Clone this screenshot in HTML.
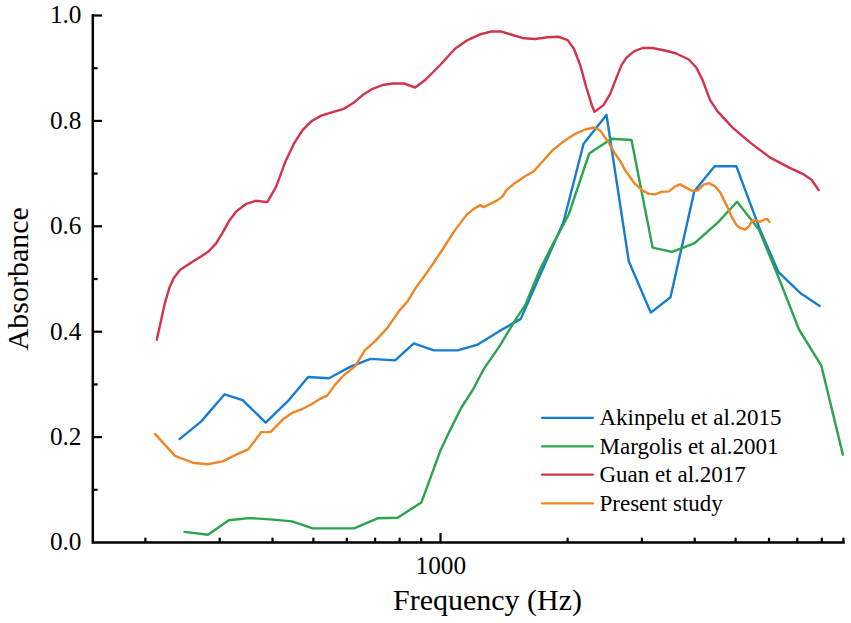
<!DOCTYPE html>
<html><head><meta charset="utf-8"><title>Absorbance</title>
<style>
html,body{margin:0;padding:0;background:#fff;}
svg{display:block;}
text{font-family:"Liberation Serif",serif;fill:#000;}
.tk{font-size:25.3px;}
.lg{font-size:23px;}
.ax{font-size:30px;}
.curve{fill:none;stroke-width:2.4;stroke-linejoin:round;stroke-linecap:round;}
</style></head><body>
<svg width="851" height="623" viewBox="0 0 851 623">
<rect width="851" height="623" fill="#fff"/>
<polyline class="curve" stroke="#167cd2" points="179.5,439.1 201.3,421.4 224.6,394.3 242.6,400.1 265.7,422.6 288.9,400.1 308.2,377.0 329.0,378.3 350.5,366.6 370.5,358.9 395.1,360.4 413.8,343.4 433.9,350.4 457.6,350.4 477.7,344.6 498.9,331.4 520.7,318.9 563.5,222.0 583.6,143.8 606.5,115.0 628.8,261.3 650.8,312.6 670.5,297.2 694.3,191.3 714.6,166.3 736.4,166.3 760.2,230.1 778.5,272.2 800.2,292.9 819.7,305.9"/>
<polyline class="curve" stroke="#2ca44b" points="184.5,531.9 208.0,534.7 228.8,520.2 248.8,518.1 270.1,519.4 292.2,521.4 312.7,528.4 354.0,528.4 377.6,518.3 397.6,517.7 421.3,502.6 430.1,478.9 440.1,451.3 450.1,430.1 461.4,407.5 473.0,389.5 483.9,368.9 500.2,345.1 515.2,320.1 525.2,305.1 540.3,268.8 553.0,243.8 562.0,227.5 568.9,214.0 589.2,153.5 611.5,138.8 631.5,140.0 652.6,247.6 672.1,251.9 694.3,243.3 717.7,222.6 737.1,201.8 758.9,229.6 777.7,275.2 799.0,329.5 821.3,365.6 842.9,454.6"/>
<polyline class="curve" stroke="#d3324c" points="156.8,339.7 165.0,302.6 169.5,287.6 173.8,278.1 180.0,270.1 191.3,262.6 201.3,256.3 208.8,251.3 216.3,243.1 222.6,232.6 228.9,221.3 236.4,211.3 246.4,203.8 255.6,200.8 267.3,202.1 276.3,186.4 285.0,162.6 293.8,143.9 302.6,130.1 311.3,121.3 321.3,115.6 332.6,112.1 343.9,108.8 353.9,102.6 362.6,95.1 372.6,88.8 382.7,85.0 392.7,83.5 403.9,83.5 415.2,87.5 425.2,80.0 440.2,65.0 455.0,48.8 467.5,40.1 480.1,34.3 491.3,31.5 501.3,31.5 512.6,35.0 523.9,38.3 535.1,39.0 547.6,37.3 558.9,36.8 567.7,40.1 573.9,48.8 580.2,65.1 586.4,87.6 592.2,106.4 594.5,111.9 603.5,105.1 610.2,93.9 616.5,77.6 621.5,65.1 626.5,57.6 634.0,51.3 642.5,48.0 652.5,48.0 665.0,50.5 676.3,53.5 688.8,59.5 696.3,67.5 702.6,80.1 710.1,100.1 717.6,111.4 732.6,127.6 750.2,142.6 770.2,157.6 790.2,168.1 802.7,173.8 811.5,179.7 818.7,190.0"/>
<polyline class="curve" stroke="#ef8626" points="155.0,433.9 175.0,455.9 192.6,462.7 207.6,464.2 222.6,461.4 236.4,454.6 248.1,449.4 261.4,432.1 270.7,431.9 282.7,419.6 292.7,412.6 302.7,408.8 311.5,404.3 320.2,398.8 327.2,395.6 335.2,384.6 344.0,375.0 355.0,366.4 365.0,350.2 375.0,341.4 387.6,327.6 398.8,311.4 407.6,301.3 415.1,288.8 425.1,275.1 433.9,262.5 442.5,249.5 455.0,230.1 466.3,215.1 473.8,208.9 480.1,205.1 483.8,207.1 490.1,203.9 497.6,200.1 502.6,196.4 506.4,190.1 513.9,183.8 525.1,176.3 533.9,171.3 542.7,161.3 552.7,150.1 563.9,141.3 575.2,133.8 585.2,129.5 594.5,127.5 600.2,130.6 607.0,140.0 615.1,153.8 620.3,161.3 625.1,170.1 633.0,181.3 635.1,183.9 642.7,190.6 648.9,193.9 655.2,194.4 661.4,191.9 668.9,191.4 675.2,186.4 680.2,184.4 685.2,187.1 691.5,190.6 697.7,190.6 704.0,184.4 709.0,183.1 715.3,186.4 720.3,192.6 726.5,205.1 731.4,216.3 736.4,225.0 740.1,228.0 745.1,229.6 748.9,226.3 752.2,220.8 756.4,220.6 760.2,221.8 765.2,219.3 767.7,219.3 769.4,221.8"/>
<g stroke="#000" stroke-width="2.2" fill="none">
<line x1="145.4" y1="542.5" x2="145.4" y2="537.7"/>
<line x1="219.7" y1="542.5" x2="219.7" y2="537.7"/>
<line x1="272.5" y1="542.5" x2="272.5" y2="537.7"/>
<line x1="313.4" y1="542.5" x2="313.4" y2="537.7"/>
<line x1="346.8" y1="542.5" x2="346.8" y2="537.7"/>
<line x1="375.1" y1="542.5" x2="375.1" y2="537.7"/>
<line x1="399.6" y1="542.5" x2="399.6" y2="537.7"/>
<line x1="421.2" y1="542.5" x2="421.2" y2="537.7"/>
<line x1="567.6" y1="542.5" x2="567.6" y2="537.7"/>
<line x1="641.9" y1="542.5" x2="641.9" y2="537.7"/>
<line x1="694.7" y1="542.5" x2="694.7" y2="537.7"/>
<line x1="735.6" y1="542.5" x2="735.6" y2="537.7"/>
<line x1="769.0" y1="542.5" x2="769.0" y2="537.7"/>
<line x1="797.3" y1="542.5" x2="797.3" y2="537.7"/>
<line x1="821.8" y1="542.5" x2="821.8" y2="537.7"/>
<line x1="843.4" y1="542.5" x2="843.4" y2="537.7"/>
<line x1="440.5" y1="542.5" x2="440.5" y2="533.0"/>
<line x1="92.8" y1="489.8" x2="97.6" y2="489.8"/>
<line x1="92.8" y1="437.1" x2="102.1" y2="437.1"/>
<line x1="92.8" y1="384.4" x2="97.6" y2="384.4"/>
<line x1="92.8" y1="331.7" x2="102.1" y2="331.7"/>
<line x1="92.8" y1="279.0" x2="97.6" y2="279.0"/>
<line x1="92.8" y1="226.3" x2="102.1" y2="226.3"/>
<line x1="92.8" y1="173.6" x2="97.6" y2="173.6"/>
<line x1="92.8" y1="120.9" x2="102.1" y2="120.9"/>
<line x1="92.8" y1="68.2" x2="97.6" y2="68.2"/>
<line x1="92.8" y1="15.5" x2="102.1" y2="15.5"/>
</g>
<path d="M92.8,14.3 V542.5 H844.8" stroke="#000" stroke-width="2.5" fill="none" stroke-linejoin="miter"/>
<text x="81.5" y="550.3" text-anchor="end" class="tk">0.0</text>
<text x="81.5" y="444.9" text-anchor="end" class="tk">0.2</text>
<text x="81.5" y="339.5" text-anchor="end" class="tk">0.4</text>
<text x="81.5" y="234.1" text-anchor="end" class="tk">0.6</text>
<text x="81.5" y="128.7" text-anchor="end" class="tk">0.8</text>
<text x="81.5" y="23.3" text-anchor="end" class="tk">1.0</text>
<text x="440.8" y="573.6" text-anchor="middle" class="tk">1000</text>
<text x="487.5" y="609.9" text-anchor="middle" class="ax">Frequency (Hz)</text>
<text transform="translate(28.3,278.8) rotate(-90)" text-anchor="middle" class="ax">Absorbance</text>
<line x1="542" y1="417.8" x2="593" y2="417.8" stroke="#167cd2" stroke-width="2.2" stroke-linecap="round"/>
<text x="599.5" y="425.1" class="lg">Akinpelu et al.2015</text>
<line x1="542" y1="446.3" x2="593" y2="446.3" stroke="#2ca44b" stroke-width="2.2" stroke-linecap="round"/>
<text x="599.5" y="453.6" class="lg">Margolis et al.2001</text>
<line x1="542" y1="474.6" x2="593" y2="474.6" stroke="#d3324c" stroke-width="2.2" stroke-linecap="round"/>
<text x="599.5" y="481.9" class="lg">Guan et al.2017</text>
<line x1="542" y1="503.4" x2="593" y2="503.4" stroke="#ef8626" stroke-width="2.2" stroke-linecap="round"/>
<text x="599.5" y="510.7" class="lg">Present study</text>

</svg>
</body></html>
